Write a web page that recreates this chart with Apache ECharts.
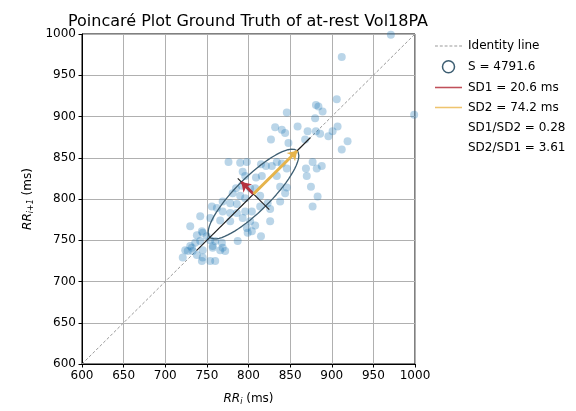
<!DOCTYPE html>
<html>
<head>
<meta charset="utf-8">
<script src="https://cdn.jsdelivr.net/npm/echarts@6/dist/echarts.min.js"></script>
<style>
  html, body { margin: 0; padding: 0; background: #fff; }
  #chart { width: 576px; height: 411px; }
</style>
</head>
<body>
<div id="chart"></div>
<script>
// RR intervals (ms): RR_i and RR_i+1
var rrI = [971, 912, 999, 906, 881, 884, 889, 846, 880, 907, 859, 832, 840, 844, 871, 881, 886, 901, 896, 919, 912, 827, 848, 868, 877, 888, 882, 869, 870, 875, 883, 877,
    776, 790, 798, 815, 821, 828, 834, 840, 846, 816, 809, 796, 793, 834, 838, 846, 844, 838, 826, 823, 814, 808, 802, 792, 785, 781, 790, 796, 778, 786, 769, 762, 756, 769, 778, 786, 796, 804, 814, 742, 754, 766, 778, 793, 802, 826, 798, 808, 815, 804, 799, 787,
    738, 745, 750, 742, 736, 730, 724, 727, 733, 745, 757, 768, 766, 721, 738, 745, 744, 754, 760, 744, 754, 760, 757, 769, 732, 730, 772];
var rrNext = [999, 972, 902, 921, 914, 912, 906, 905, 898, 888, 888, 887, 884, 880, 882, 882, 879, 882, 876, 870, 860, 872, 868, 872, 845, 840, 837, 837, 828, 815, 803, 791,
    845, 844, 845, 842, 840, 840, 845, 843, 837, 828, 826, 828, 833, 828, 815, 814, 807, 797, 788, 795, 804, 813, 813, 816, 813, 807, 804, 801, 795, 794, 797, 789, 791, 785, 783, 783, 785, 785, 791, 779, 777, 774, 773, 777, 773, 773, 765, 768, 755, 761, 759, 749,
    756, 759, 755, 749, 747, 743, 738, 737, 737, 738, 741, 747, 738, 729, 732, 729, 725, 725, 725, 761, 750, 749, 743, 741, 741, 767, 737];

var rrMean = 806;
var sd1 = 20.6;
var sd2 = 74.2;
var areaS = '4791.6';
var ratio12 = '0.28';
var ratio21 = '3.61';

var c45 = Math.SQRT1_2;
var points = [];
for (var i = 0; i < rrI.length; i++) {
    points.push([rrI[i], rrNext[i]]);
}

// ellipse with semi-axes sd2 (along identity) and sd1
var ellipse = [];
for (var t = 0; t <= 360; t += 5) {
    var a = t * Math.PI / 180;
    var u = sd2 * Math.cos(a), v = sd1 * Math.sin(a);
    ellipse.push([rrMean + (u - v) * c45, rrMean + (u + v) * c45]);
}

var myChart = echarts.init(document.getElementById('chart'));
var font = 'DejaVu Sans';
var dashIcon = 'path://M0,0h3v1h-3zM5,0h3v1h-3zM10,0h3v1h-3zM15,0h3v1h-3zM20,0h3v1h-3zM25,0h3v1h-3z';
var solidIcon = 'path://M0,0h28v1.6h-28z';

var nameStyle = {
    fontFamily: font, fontSize: 12, color: '#000',
    rich: {
        i: { fontFamily: font, fontSize: 12, fontStyle: 'italic' },
        s: { fontFamily: font, fontSize: 8, fontStyle: 'italic', padding: [6, 0, 0, 0] }
    }
};

var option = {
    animation: false,
    title: {
        text: 'Poincaré Plot Ground Truth of at-rest Vol18PA',
        left: 63,
        top: 9,
        textStyle: { fontFamily: font, fontSize: 16, fontWeight: 'normal', color: '#000' }
    },
    legend: {
        orient: 'vertical',
        left: 430,
        top: 35,
        itemWidth: 27,
        itemHeight: 12,
        itemGap: 8,
        textStyle: { fontFamily: font, fontSize: 12, color: '#000', padding: [0, 0, 0, 1] },
        data: [
            { name: 'Identity line', icon: dashIcon, itemStyle: { color: '#999' } },
            { name: 'S = ' + areaS, icon: 'circle', itemStyle: { color: 'rgba(0,0,0,0)', borderColor: '#3d5e72', borderWidth: 1.5 } },
            { name: 'SD1 = ' + sd1 + ' ms', icon: solidIcon, itemStyle: { color: '#c0505a' } },
            { name: 'SD2 = ' + sd2 + ' ms', icon: solidIcon, itemStyle: { color: '#eec46e' } },
            { name: 'SD1/SD2 = ' + ratio12, icon: 'none' },
            { name: 'SD2/SD1 = ' + ratio21, icon: 'none' }
        ]
    },
    grid: {
        left: 82, top: 34, width: 333, height: 333,
        show: true, borderColor: '#000', borderWidth: 1, backgroundColor: 'transparent'
    },
    xAxis: {
        type: 'value', min: 600, max: 1000, interval: 50,
        name: '{i|RR}{s|i} (ms)',
        nameLocation: 'middle', nameGap: 28,
        nameTextStyle: nameStyle,
        axisLine: { lineStyle: { color: '#000' } },
        axisTick: { length: 3.5, lineStyle: { color: '#000' } },
        axisLabel: { fontFamily: font, fontSize: 12, color: '#000', margin: 6, formatter: function (v) { return String(v); } },
        splitLine: { lineStyle: { color: '#b0b0b0', width: 1 } }
    },
    yAxis: {
        type: 'value', min: 600, max: 1000, interval: 50,
        name: '{i|RR}{s|i+1} (ms)',
        nameLocation: 'middle', nameGap: 46,
        nameTextStyle: nameStyle,
        axisLine: { lineStyle: { color: '#000' } },
        axisTick: { length: 3.5, lineStyle: { color: '#000' } },
        axisLabel: { fontFamily: font, fontSize: 12, color: '#000', margin: 6, formatter: function (v) { return String(v); } },
        splitLine: { lineStyle: { color: '#b0b0b0', width: 1 } }
    },
    series: [
        {
            name: 'Identity line', type: 'line', z: 1,
            data: [[600, 600], [1000, 1000]],
            symbol: 'none', color: '#999',
            lineStyle: { color: '#999', width: 1, type: [3, 2] }
        },
        {
            name: 'NN', type: 'scatter', z: 2,
            data: points, symbolSize: 8,
            itemStyle: { color: 'rgba(31,119,180,0.38)' }
        },
        {
            name: 'S = ' + areaS, type: 'line', z: 3,
            data: ellipse, symbol: 'none', color: '#3d5e72',
            lineStyle: { color: '#3d5e72', width: 1.3 }
        },
        {
            name: 'axis2', type: 'line', z: 3, symbol: 'none',
            data: [[rrMean - 1.3 * sd2 * c45, rrMean - 1.3 * sd2 * c45], [rrMean + 1.3 * sd2 * c45, rrMean + 1.3 * sd2 * c45]],
            lineStyle: { color: '#222', width: 1.2 }
        },
        {
            name: 'axis1', type: 'line', z: 3, symbol: 'none',
            data: [[rrMean - 1.3 * sd1 * c45, rrMean + 1.3 * sd1 * c45], [rrMean + 1.3 * sd1 * c45, rrMean - 1.3 * sd1 * c45]],
            lineStyle: { color: '#222', width: 1.2 }
        },
        {
            name: 'SD1 = ' + sd1 + ' ms', type: 'line', z: 4,
            symbol: 'none', color: '#b5323e',
            data: [[rrMean, rrMean], { value: [rrMean - sd1 * c45, rrMean + sd1 * c45], symbol: 'arrow', symbolSize: [9, 9], symbolRotate: 45 }],
            lineStyle: { color: '#b5323e', width: 3 }
        },
        {
            name: 'SD2 = ' + sd2 + ' ms', type: 'line', z: 4,
            symbol: 'none', color: '#e6b44c',
            data: [[rrMean, rrMean], { value: [rrMean + sd2 * c45, rrMean + sd2 * c45], symbol: 'arrow', symbolSize: [9, 9], symbolRotate: -45 }],
            lineStyle: { color: '#e6b44c', width: 3 }
        },
        { name: 'SD1/SD2 = ' + ratio12, type: 'line', data: [] },
        { name: 'SD2/SD1 = ' + ratio21, type: 'line', data: [] }
    ]
};
myChart.setOption(option);
</script>
</body>
</html>
